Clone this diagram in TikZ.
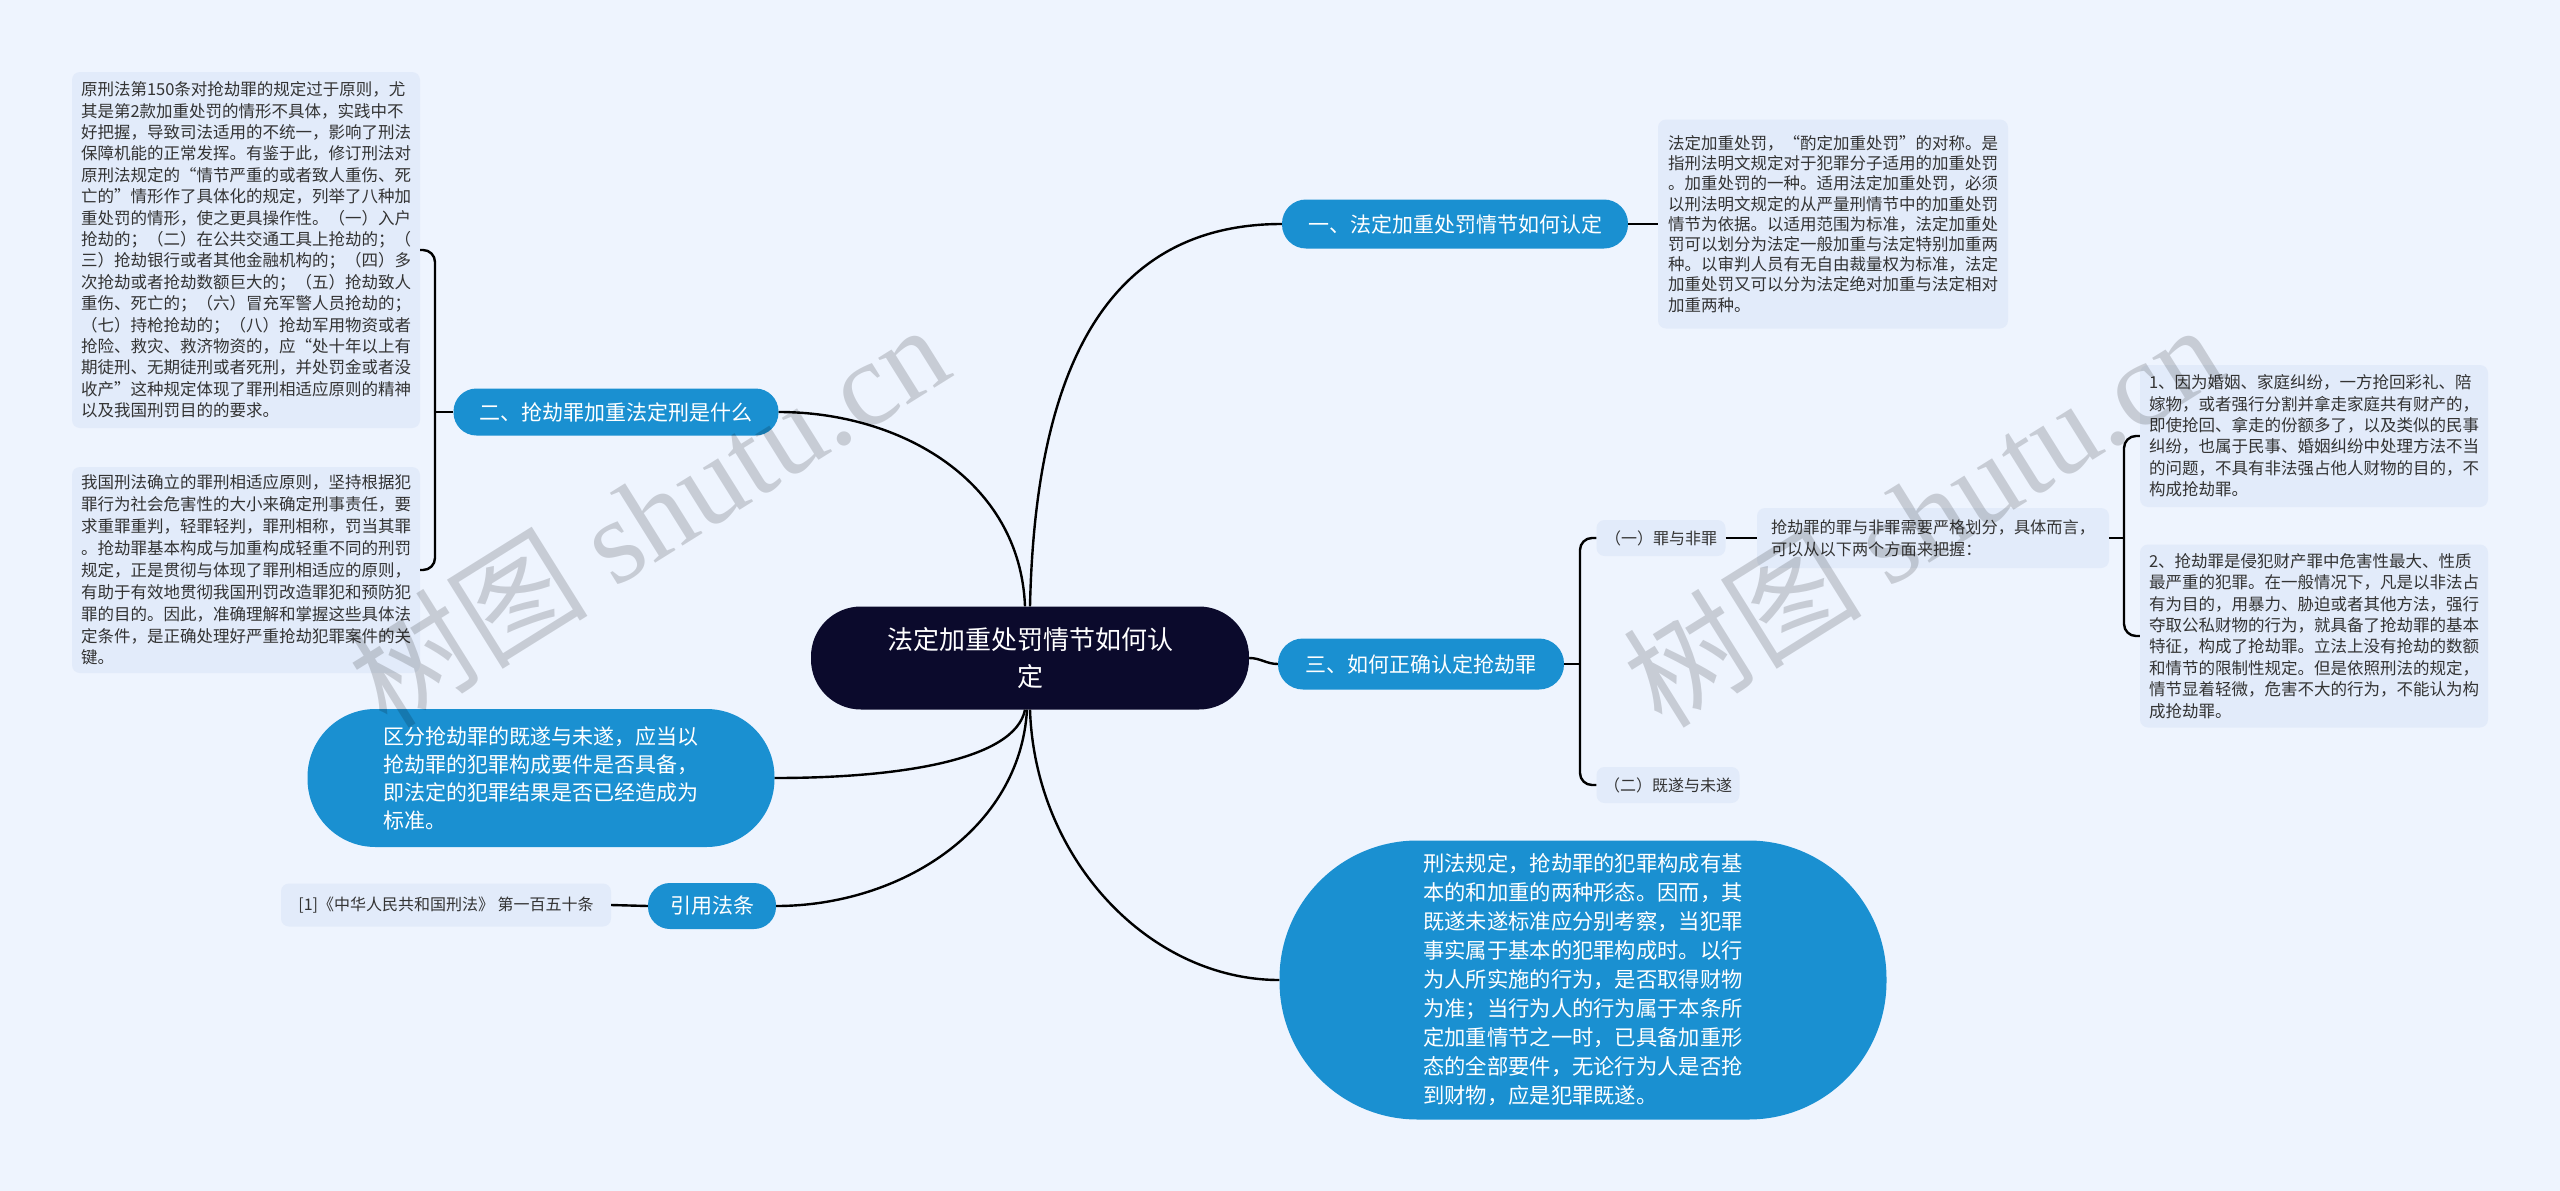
\documentclass[tikz,border=0pt]{standalone}
\usepackage{fontspec}
\setmainfont{Noto Sans CJK SC}
\newfontfamily\wmlatin{Liberation Serif}
\definecolor{bgc}{HTML}{EEF4FE}
\definecolor{boxc}{HTML}{E2EBFA}
\definecolor{bluec}{HTML}{1A90D1}
\definecolor{rootc}{HTML}{0B0A2C}
\definecolor{txtc}{HTML}{333333}
\newcommand\fsm{\fontsize{16.5}{21.4}\selectfont}
\newcommand\fmid{\fontsize{21}{28}\selectfont}
\begin{document}
\begin{tikzpicture}[x=1pt,y=-1pt,
  tbox/.style={fill=boxc, rounded corners=8pt, text=txtc, align=left, inner sep=0pt, font=\fsm},
  bnode/.style={fill=bluec, text=white, inner sep=0pt, font=\fmid},
  conn/.style={draw=black, line width=2.4pt},
  brk/.style={draw=black, line width=2.4pt, rounded corners=12pt},
  wm/.style={text=black, text opacity=0.16, rotate=32, inner sep=0pt}
]
\useasboundingbox (0,0) rectangle (2560,1191);
\fill[bgc] (0,0) rectangle (2560,1191);

% central
\node[fill=rootc, text=white, rounded corners=50pt, minimum width=438pt, minimum height=103pt,
  inner sep=0pt, align=center, font=\fontsize{26}{37}\selectfont] (root) at (1030,658)
  {法定加重处罚情节如何认\\定};

% main branches
\node[bnode, rounded corners=24pt, minimum width=346pt, minimum height=49pt] (n1) at (1455,224) {一、法定加重处罚情节如何认定};
\node[bnode, rounded corners=23pt, minimum width=325pt, minimum height=47pt] (n2) at (616,412) {二、抢劫罪加重法定刑是什么};
\node[bnode, rounded corners=25pt, minimum width=286pt, minimum height=51pt] (n3) at (1421,664) {三、如何正确认定抢劫罪};
\node[bnode, rounded corners=68pt, minimum width=467pt, minimum height=138pt, align=left] (bl) at (541,778)
  {区分抢劫罪的既遂与未遂，应当以\\抢劫罪的犯罪构成要件是否具备，\\即法定的犯罪结果是否已经造成为\\标准。};
\node[bnode, rounded corners=22pt, minimum width=128pt, minimum height=46pt] (cite) at (712,906) {引用法条};
\node[bnode, rounded corners=138pt, minimum width=607pt, minimum height=279pt, align=left, font=\fontsize{21.3}{29}\selectfont] (bb) at (1583,980)
  {刑法规定，抢劫罪的犯罪构成有基\\本的和加重的两种形态。因而，其\\既遂未遂标准应分别考察，当犯罪\\事实属于基本的犯罪构成时。以行\\为人所实施的行为，是否取得财物\\为准；当行为人的行为属于本条所\\定加重情节之一时，已具备加重形\\态的全部要件，无论行为人是否抢\\到财物，应是犯罪既遂。};

% text boxes
\node[tbox, minimum width=330pt, minimum height=43pt, font=\fontsize{16}{20}\selectfont] (ct) at (446,905) {[1]《中华人民共和国刑法》 第一百五十条};

\node[tbox, minimum width=348pt, minimum height=356pt] (t1) at (246,250)
{原刑法第150条对抢劫罪的规定过于原则，尤\\
其是第2款加重处罚的情形不具体，实践中不\\
好把握，导致司法适用的不统一，影响了刑法\\
保障机能的正常发挥。有鉴于此，修订刑法对\\
原刑法规定的“情节严重的或者致人重伤、死\\
亡的”情形作了具体化的规定，列举了八种加\\
重处罚的情形，使之更具操作性。（一）入户\\
抢劫的；（二）在公共交通工具上抢劫的；（\\
三）抢劫银行或者其他金融机构的；（四）多\\
次抢劫或者抢劫数额巨大的；（五）抢劫致人\\
重伤、死亡的；（六）冒充军警人员抢劫的；\\
（七）持枪抢劫的；（八）抢劫军用物资或者\\
抢险、救灾、救济物资的，应“处十年以上有\\
期徒刑、无期徒刑或者死刑，并处罚金或者没\\
收产”这种规定体现了罪刑相适应原则的精神\\
以及我国刑罚目的的要求。};

\node[tbox, minimum width=348pt, minimum height=206pt, font=\fontsize{16.5}{21.9}\selectfont] (t2) at (246,570)
{我国刑法确立的罪刑相适应原则，坚持根据犯\\
罪行为社会危害性的大小来确定刑事责任，要\\
求重罪重判，轻罪轻判，罪刑相称，罚当其罪\\
。抢劫罪基本构成与加重构成轻重不同的刑罚\\
规定，正是贯彻与体现了罪刑相适应的原则，\\
有助于有效地贯彻我国刑罚改造罪犯和预防犯\\
罪的目的。因此，准确理解和掌握这些具体法\\
定条件，是正确处理好严重抢劫犯罪案件的关\\
键。};

\node[tbox, minimum width=350pt, minimum height=209pt, font=\fontsize{16.5}{20.2}\selectfont] (t3) at (1833,224)
{法定加重处罚，“酌定加重处罚”的对称。是\\
指刑法明文规定对于犯罪分子适用的加重处罚\\
。加重处罚的一种。适用法定加重处罚，必须\\
以刑法明文规定的从严量刑情节中的加重处罚\\
情节为依据。以适用范围为标准，法定加重处\\
罚可以划分为法定一般加重与法定特别加重两\\
种。以审判人员有无自由裁量权为标准，法定\\
加重处罚又可以分为法定绝对加重与法定相对\\
加重两种。};

\node[tbox, minimum width=129pt, minimum height=36pt, font=\fontsize{16}{20}\selectfont] (k1) at (1661,538) {（一）罪与非罪};
\node[tbox, minimum width=143pt, minimum height=36pt, font=\fontsize{16}{20}\selectfont] (k2) at (1668,785) {（二）既遂与未遂};
\node[tbox, minimum width=352pt, minimum height=60pt, font=\fontsize{16.2}{22}\selectfont] (k1t) at (1933,538)
{抢劫罪的罪与非罪需要严格划分，具体而言，\\可以从以下两个方面来把握：};

\node[tbox, minimum width=348pt, minimum height=142pt] (r1) at (2314,436)
{1、因为婚姻、家庭纠纷，一方抢回彩礼、陪\\
嫁物，或者强行分割并拿走家庭共有财产的，\\
即使抢回、拿走的份额多了，以及类似的民事\\
纠纷，也属于民事、婚姻纠纷中处理方法不当\\
的问题，不具有非法强占他人财物的目的，不\\
构成抢劫罪。};

\node[tbox, minimum width=348pt, minimum height=183pt] (r2) at (2314,636)
{2、抢劫罪是侵犯财产罪中危害性最大、性质\\
最严重的犯罪。在一般情况下，凡是以非法占\\
有为目的，用暴力、胁迫或者其他方法，强行\\
夺取公私财物的行为，就具备了抢劫罪的基本\\
特征，构成了抢劫罪。立法上没有抢劫的数额\\
和情节的限制性规定。但是依照刑法的规定，\\
情节显着轻微，危害不大的行为，不能认为构\\
成抢劫罪。};

% bracket junctions
\coordinate (b2) at (435,412);
\coordinate (b3) at (1580,664);
\coordinate (bk) at (2124,538);

% connectors from root
\draw[conn] (root.north) .. controls (1035,380) and (1100,224) .. (n1.west);
\draw[conn] ([xshift=-5pt]root.north) .. controls (1020,480) and (900,412) .. (n2.east);
\draw[conn] (root.east) to[out=0,in=180] (n3.west);
\draw[conn] ([xshift=-5pt]root.south) .. controls (1015,760) and (900,778) .. (bl.east);
\draw[conn] ([xshift=-3pt]root.south) .. controls (1020,830) and (900,906) .. (cite.east);
\draw[conn] (root.south) .. controls (1035,860) and (1150,980) .. (bb.west);

% sub connectors
\draw[conn] (n1.east) -- (t3.west);
\draw[conn] (cite.west) -- (ct.east);
\draw[conn] (n2.west) -- (b2);
\draw[brk] (t1.east) -| (b2) |- (t2.east);
\draw[conn] (n3.east) -- (b3);
\draw[brk] (k1.west) -| (b3) |- (k2.west);
\draw[conn] (k1.east) -- (k1t.west);
\draw[conn] (k1t.east) -- (bk);
\draw[brk] (r1.west) -| (bk) |- (r2.west);

% watermarks
\node[wm] (wm1) at (648,514) {\fontsize{120}{120}\selectfont 树图 {\wmlatin shutu.cn}};
\node[wm] (wm2) at (1922,514) {\fontsize{120}{120}\selectfont 树图 {\wmlatin shutu.cn}};
\end{tikzpicture}
\end{document}
